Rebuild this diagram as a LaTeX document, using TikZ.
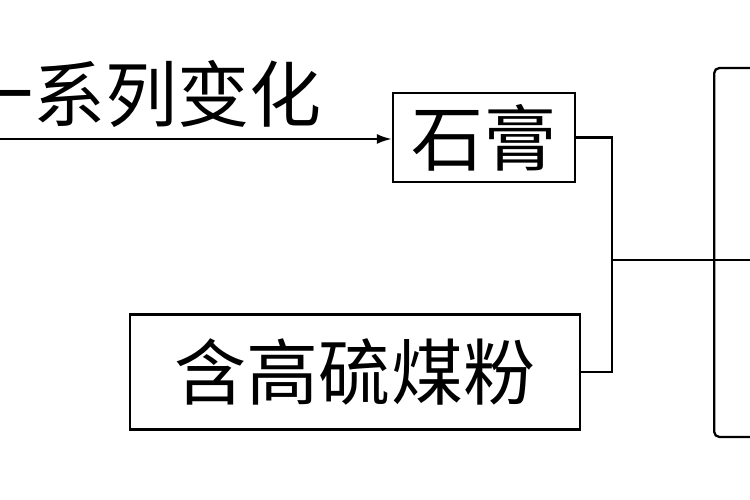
\documentclass[tikz,border=0pt]{standalone}
\usepackage{fontspec}
\newfontfamily\cjk{Noto Sans CJK SC}
\usetikzlibrary{arrows.meta}
\begin{document}
\begin{tikzpicture}[line width=1.3pt,
        box/.style={draw, inner sep=0pt, font=\cjk\fontsize{41pt}{43pt}\selectfont},
    ]
        \def\JoinX{12.24}   % x of the joining line
        \def\MidY{4.8}      % y of the outgoing line
        \useasboundingbox (0,0) rectangle (15,10);
        \node[box, minimum width=3.64cm, minimum height=1.78cm] (gypsum) at (9.68,7.25) {石膏};
        \node[box, minimum width=9cm, minimum height=2.3cm] (coal) at (7.1,2.56) {含高硫煤粉};
        \node[draw, rounded corners=3pt, anchor=west, minimum width=3cm, minimum height=7.38cm] (kiln) at (14.26,4.95) {};
        \node[anchor=east, font=\cjk\fontsize{41pt}{43pt}\selectfont] (change) at (6.58,8.12) {一系列变化};

        \coordinate (start) at (-0.5,7.22);
        \coordinate (join) at (\JoinX,\MidY);
        \coordinate (out) at (15.5,\MidY);
        \draw[-{Latex[length=3mm,width=2mm]}] (start) -- (gypsum.west |- start);
        \draw (gypsum.east) -| (join) |- (coal.east);
        \draw (join) -- (out);
    \end{tikzpicture}
\end{document}
